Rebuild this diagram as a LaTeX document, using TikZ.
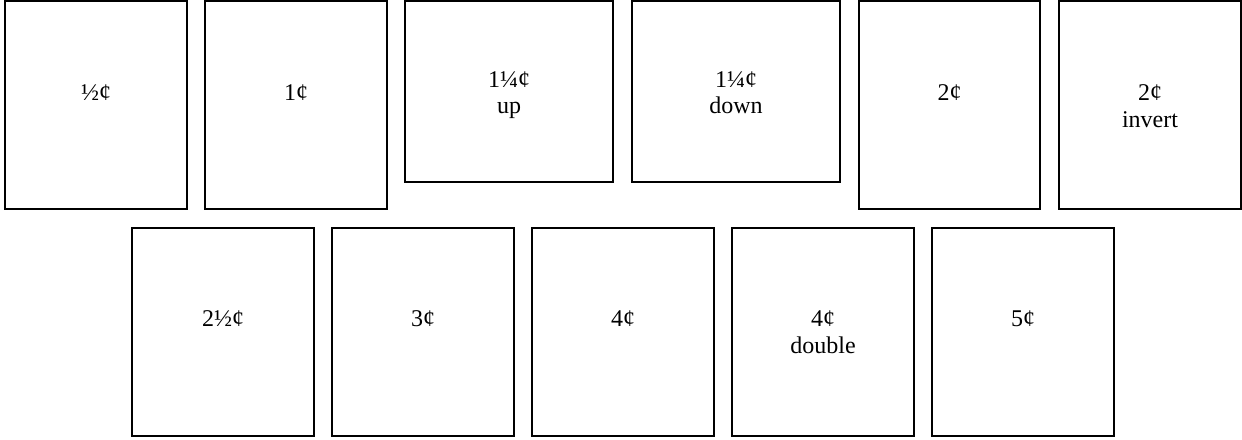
\documentclass[tikz,border=0pt]{standalone}
\usepackage{fontspec}
\setmainfont{Liberation Serif}
\begin{document}
\begin{tikzpicture}[x=0.5pt,y=-0.5pt,
  box/.style={draw=black,line width=1pt,rectangle,inner sep=0pt,outer sep=0pt,fill=white},
  tall/.style={box,minimum width=91pt,minimum height=104pt},
  wide/.style={box,minimum width=104pt,minimum height=90.5pt},
  lbl/.style={anchor=base,inner sep=0pt,font=\fontsize{12pt}{13.5pt}\selectfont}]
\useasboundingbox[fill=white] (0,0) rectangle (1242,439);
% top row
\node[tall] (b1) at (96,105) {};
\node[tall] (b2) at (296,105) {};
\node[wide] (b3) at (509,91.5) {};
\node[wide] (b4) at (736,91.5) {};
\node[tall,minimum width=90.5pt] (b5) at (949.5,105) {};
\node[tall] (b6) at (1150,105) {};
% bottom row
\node[tall] (b7) at (223,332) {};
\node[tall] (b8) at (423,332) {};
\node[tall] (b9) at (623,332) {};
\node[tall] (b10) at (823,332) {};
\node[tall] (b11) at (1023,332) {};
% labels
\node[lbl] (t1) at (96,100) {½¢};
\node[lbl] (t2) at (296,100) {1¢};
\node[lbl] (t3a) at (509,87) {1¼¢};
\node[lbl] (t3b) at (509,113) {up};
\node[lbl] (t4a) at (736,87) {1¼¢};
\node[lbl] (t4b) at (736,113) {down};
\node[lbl] (t5) at (949.5,100) {2¢};
\node[lbl] (t6a) at (1150,100) {2¢};
\node[lbl] (t6b) at (1150,127) {invert};
\node[lbl] (t7) at (223,326) {2½¢};
\node[lbl] (t8) at (423,326) {3¢};
\node[lbl] (t9) at (623,326) {4¢};
\node[lbl] (t10a) at (823,326) {4¢};
\node[lbl] (t10b) at (823,353) {double};
\node[lbl] (t11) at (1023,326) {5¢};
\end{tikzpicture}
\end{document}
